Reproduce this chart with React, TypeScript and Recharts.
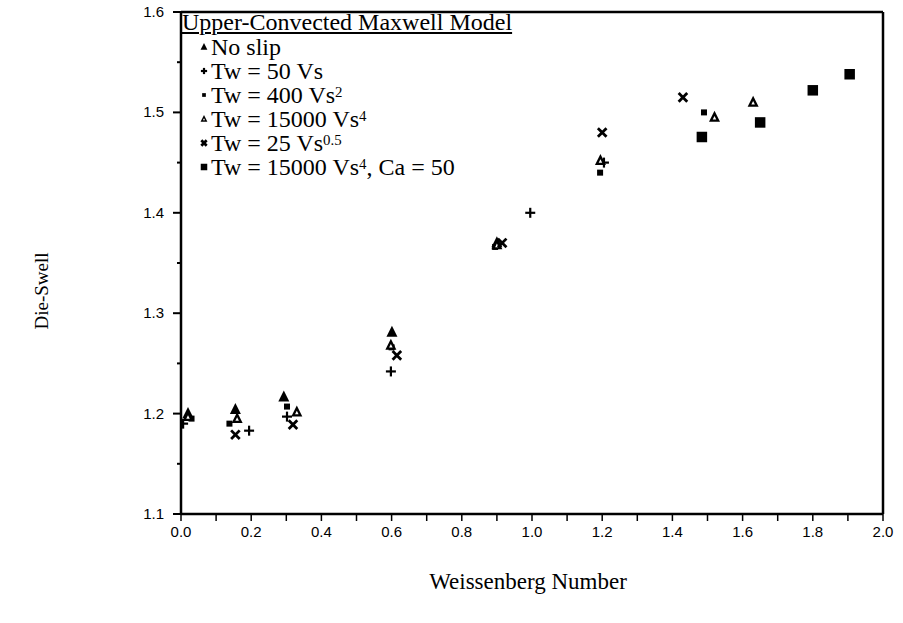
import React from 'react';
import { ScatterChart, Scatter, XAxis, YAxis, ReferenceLine } from 'recharts';

// tick positions
const xTicks = [0, 0.1, 0.2, 0.3, 0.4, 0.5, 0.6, 0.7, 0.8, 0.9, 1.0, 1.1, 1.2, 1.3, 1.4, 1.5, 1.6, 1.7, 1.8, 1.9, 2.0];
const xLabelTicks = [0, 0.2, 0.4, 0.6, 0.8, 1.0, 1.2, 1.4, 1.6, 1.8, 2.0];
const yTicks = [1.1, 1.15, 1.2, 1.25, 1.3, 1.35, 1.4, 1.45, 1.5, 1.55, 1.6];
const yLabelTicks = [1.1, 1.2, 1.3, 1.4, 1.5, 1.6];

// series
const noSlipX = [0.02, 0.155, 0.293, 0.601, 0.9];
const noSlipY = [1.2, 1.204, 1.2165, 1.281, 1.37];

const tw50X = [0.006, 0.194, 0.302, 0.598, 0.995, 1.205];
const tw50Y = [1.19, 1.183, 1.197, 1.242, 1.4, 1.45];

const tw400X = [0.03, 0.138, 0.302, 0.6, 0.895, 1.194, 1.49];
const tw400Y = [1.195, 1.19, 1.207, 1.266, 1.366, 1.44, 1.5];

const tw15000X = [0.02, 0.16, 0.33, 0.598, 0.9, 1.195, 1.52, 1.63];
const tw15000Y = [1.197, 1.195, 1.2016, 1.268, 1.368, 1.452, 1.495, 1.51];

const tw25X = [0.155, 0.319, 0.615, 0.915, 1.2, 1.43];
const tw25Y = [1.179, 1.189, 1.258, 1.37, 1.48, 1.515];

const ca50X = [1.484, 1.65, 1.8, 1.905];
const ca50Y = [1.4755, 1.49, 1.522, 1.538];

const zip = (xs: number[], ys: number[]) => xs.map((x, i) => ({ x, y: ys[i] }));

type Kind = 'tri' | 'plus' | 'sq' | 'otri' | 'cross' | 'bigsq';

function Marker({ kind, cx, cy, s = 1 }: { kind: Kind; cx: number; cy: number; s?: number }) {
  if (kind === 'tri' || kind === 'otri') {
    const w = 11 * s;
    const pts = `${cx},${cy - w * 0.6} ${cx - w / 2},${cy + w * 0.4} ${cx + w / 2},${cy + w * 0.4}`;
    return (
      <g>
        <polygon points={pts} fill="#000" />
        {kind === 'otri' && (
          <polygon points={`${cx},${cy - w * 0.12} ${cx - w * 0.16},${cy + w * 0.2} ${cx + w * 0.16},${cy + w * 0.2}`} fill="#fff" />
        )}
      </g>
    );
  }
  if (kind === 'plus') {
    const a = 5 * s;
    return (
      <g stroke="#000" strokeWidth={2.2}>
        <line x1={cx - a} y1={cy} x2={cx + a} y2={cy} />
        <line x1={cx} y1={cy - a} x2={cx} y2={cy + a} />
      </g>
    );
  }
  if (kind === 'cross') {
    const a = 4.3 * s;
    return (
      <g stroke="#000" strokeWidth={2.8}>
        <line x1={cx - a} y1={cy - a} x2={cx + a} y2={cy + a} />
        <line x1={cx - a} y1={cy + a} x2={cx + a} y2={cy - a} />
      </g>
    );
  }
  const w = (kind === 'sq' ? 6 : 10.5) * s;
  return <rect x={cx - w / 2} y={cy - w / 2} width={w} height={w} fill="#000" />;
}

const shapeOf = (kind: Kind) => (p: any) => <Marker kind={kind} cx={p.cx} cy={p.cy} />;

const sansFont = '"Liberation Sans", Arial, sans-serif';
const serifFont = '"Liberation Serif", "Times New Roman", serif';

function XTick(props: any) {
  const { x, y, payload } = props;
  const v = payload.value;
  const show = xLabelTicks.some((t) => Math.abs(t - v) < 1e-6);
  return (
    <g>
      <line x1={x} y1={y - 7} x2={x} y2={y} stroke="#000" strokeWidth={1.5} />
      {show && (
        <text x={x} y={y + 16} textAnchor="middle" fontSize={15} fontFamily={sansFont} fill="#000">
          {v.toFixed(1)}
        </text>
      )}
    </g>
  );
}

function YTick(props: any) {
  const { x, y, payload } = props;
  const v = payload.value;
  const major = yLabelTicks.some((t) => Math.abs(t - v) < 1e-6);
  const len = major ? 8 : 4;
  return (
    <g>
      <line x1={x + 8 - len} y1={y} x2={x + 8} y2={y} stroke="#000" strokeWidth={2} />
      {major && (
        <text x={x - 9} y={y + 5} textAnchor="end" fontSize={15} fontFamily={sansFont} fill="#000">
          {v.toFixed(1)}
        </text>
      )}
    </g>
  );
}

const Sup = ({ children }: { children: React.ReactNode }) => (
  <span style={{ fontSize: '0.62em', position: 'relative', top: '-0.42em', lineHeight: 0 }}>{children}</span>
);

const legendItems: { kind: Kind; label: React.ReactNode }[] = [
  { kind: 'tri', label: 'No slip' },
  { kind: 'plus', label: 'Tw = 50 Vs' },
  { kind: 'sq', label: <>Tw = 400 Vs<Sup>2</Sup></> },
  { kind: 'otri', label: <>Tw = 15000 Vs<Sup>4</Sup></> },
  { kind: 'cross', label: <>Tw = 25 Vs<Sup>0.5</Sup></> },
  { kind: 'bigsq', label: <>Tw = 15000 Vs<Sup>4</Sup>, Ca = 50</> },
];

export default function App() {
  return (
    <div style={{ position: 'absolute', left: 0, top: 0, width: 903, height: 623, background: '#fff' }}>
      <ScatterChart width={903} height={623} margin={{ top: 12, right: 20, bottom: 79, left: 0 }}>
        <XAxis
          type="number"
          dataKey="x"
          domain={[0, 2]}
          ticks={xTicks}
          interval={0}
          height={30}
          tickSize={7}
          tickMargin={0}
          tickLine={false}
          tick={<XTick />}
          axisLine={{ stroke: '#000', strokeWidth: 2.5 }}
          allowDataOverflow
        />
        <YAxis
          type="number"
          dataKey="y"
          domain={[1.1, 1.6]}
          ticks={yTicks}
          interval={0}
          width={181}
          tickSize={8}
          tickMargin={0}
          tickLine={false}
          tick={<YTick />}
          axisLine={{ stroke: '#000', strokeWidth: 2.5 }}
          allowDataOverflow
        />
        <ReferenceLine y={1.6} stroke="#000" strokeWidth={2.5} ifOverflow="extendDomain" />
        <ReferenceLine x={2} stroke="#000" strokeWidth={2.5} ifOverflow="extendDomain" />
        <Scatter name="No slip" data={zip(noSlipX, noSlipY)} shape={shapeOf('tri')} isAnimationActive={false} />
        <Scatter name="Tw = 50 Vs" data={zip(tw50X, tw50Y)} shape={shapeOf('plus')} isAnimationActive={false} />
        <Scatter name="Tw = 400 Vs2" data={zip(tw400X, tw400Y)} shape={shapeOf('sq')} isAnimationActive={false} />
        <Scatter name="Tw = 15000 Vs4" data={zip(tw15000X, tw15000Y)} shape={shapeOf('otri')} isAnimationActive={false} />
        <Scatter name="Tw = 25 Vs0.5" data={zip(tw25X, tw25Y)} shape={shapeOf('cross')} isAnimationActive={false} />
        <Scatter name="Tw = 15000 Vs4, Ca = 50" data={zip(ca50X, ca50Y)} shape={shapeOf('bigsq')} isAnimationActive={false} />
      </ScatterChart>

      {/* legend box in the upper left of the plot */}
      <div style={{ position: 'absolute', left: 182, top: 10, fontFamily: serifFont, fontSize: 24, color: '#000', lineHeight: '24px' }}>
        <div style={{ textDecoration: 'underline', whiteSpace: 'nowrap', height: 25 }}>Upper-Convected Maxwell Model</div>
        {legendItems.map((it, i) => (
          <div key={i} style={{ display: 'flex', alignItems: 'center', whiteSpace: 'nowrap', height: 24 }}>
            <svg width={29} height={20} style={{ display: 'block' }}>
              <Marker kind={it.kind} cx={22} cy={10} s={0.62} />
            </svg>
            <span style={{ lineHeight: '24px', height: 24 }}>{it.label}</span>
          </div>
        ))}
      </div>

      <div
        style={{
          position: 'absolute',
          left: 42,
          top: 291,
          transform: 'translate(-50%, -50%) rotate(-90deg)',
          fontFamily: serifFont,
          fontSize: 19,
          whiteSpace: 'nowrap',
        }}
      >
        Die-Swell
      </div>
      <div
        style={{
          position: 'absolute',
          left: 528,
          top: 582,
          transform: 'translate(-50%, -50%)',
          fontFamily: serifFont,
          fontSize: 23,
          whiteSpace: 'nowrap',
        }}
      >
        Weissenberg Number
      </div>
    </div>
  );
}
